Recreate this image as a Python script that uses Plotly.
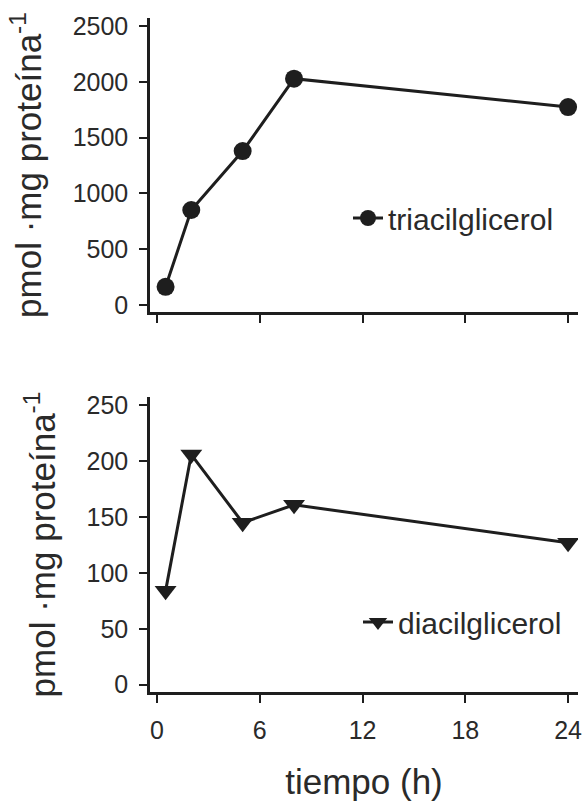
import plotly.graph_objects as go

# ---- data ----
tiempo_h = [0.5, 2, 5, 8, 24]
triacilglicerol = [161, 851, 1380, 2030, 1775]
diacilglicerol = [84, 206, 145, 161, 127]

x_ticks = [0, 6, 12, 18, 24]
y_ticks_tag = [0, 500, 1000, 1500, 2000, 2500]
y_ticks_dag = [0, 50, 100, 150, 200, 250]

FONT = "Liberation Sans, Arial, Helvetica, sans-serif"
INK = "#1e1e1e"
TXT = "#2a2a2a"

W, H = 584, 801
ML, MR, MT, MB = 150, 6, 18, 109
PH = H - MT - MB
PW = W - ML - MR

def fy(py):
    return (H - MB - py) / PH

fig = go.Figure()

fig.add_trace(go.Scatter(
    x=tiempo_h, y=triacilglicerol, name="triacilglicerol",
    mode="lines+markers", xaxis="x", yaxis="y", legend="legend",
    line=dict(color=INK, width=3),
    marker=dict(symbol="circle", size=18, color=INK),
))
fig.add_trace(go.Scatter(
    x=tiempo_h, y=diacilglicerol, name="diacilglicerol",
    mode="lines+markers", xaxis="x2", yaxis="y2", legend="legend2",
    line=dict(color=INK, width=3),
    marker=dict(symbol="triangle-down", size=19, color=INK),
))

ytitle = "pmol ·mg proteína<sup>-1</sup>"
common_x = dict(range=[-0.41, 24.58], tickvals=x_ticks, showline=True, linecolor=INK,
                linewidth=2.5, ticks="outside", ticklen=8, tickwidth=1.5, tickcolor=INK,
                showgrid=False, zeroline=False, domain=[0, 1], automargin=False,
                ticklabeloverflow="allow")
common_y = dict(showline=True, linecolor=INK, linewidth=2.5, ticks="outside", ticklen=8,
                tickwidth=1.5, tickcolor=INK, showgrid=False, zeroline=False, automargin=False,
                tickfont=dict(size=25, color=TXT, family=FONT), ticklabelstandoff=6,
                title=dict(text=ytitle, font=dict(size=35, color=TXT, family=FONT), standoff=21))

fig.update_layout(
    width=W, height=H,
    margin=dict(l=ML, r=MR, t=MT, b=MB, autoexpand=False),
    paper_bgcolor="white", plot_bgcolor="white",
    font=dict(family=FONT, color=TXT),
    xaxis=dict(**common_x, anchor="y", showticklabels=False),
    yaxis=dict(**common_y, domain=[fy(312), 1.0], range=[-65, 2575], tickvals=y_ticks_tag, anchor="x"),
    xaxis2=dict(**common_x, anchor="y2", showticklabels=True,
                tickfont=dict(size=25, color=TXT, family=FONT), ticklabelstandoff=6,
                title=dict(text="tiempo (h)", font=dict(size=35, color=TXT, family=FONT), standoff=28)),
    yaxis2=dict(**common_y, domain=[0, fy(397)], range=[-6.5, 257.5], tickvals=y_ticks_dag, anchor="x2"),
    legend=dict(x=(348 - ML) / PW, y=fy(218), xanchor="left", yanchor="middle",
                bgcolor="rgba(0,0,0,0)", font=dict(size=30, color=TXT, family=FONT)),
    legend2=dict(x=(358 - ML) / PW, y=fy(622), xanchor="left", yanchor="middle",
                 bgcolor="rgba(0,0,0,0)", font=dict(size=30, color=TXT, family=FONT)),
    showlegend=True,
)

fig.write_html("out.html", config={"displayModeBar": False},
               post_script="document.body.style.margin='0px';document.body.style.overflow='hidden';")
